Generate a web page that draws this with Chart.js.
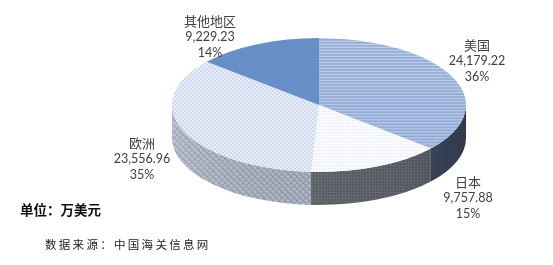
<!DOCTYPE html>
<html><head><meta charset="utf-8">
<script src="https://cdn.jsdelivr.net/npm/chart.js@4"></script>
<style>html,body{margin:0;padding:0;background:#fff;}canvas{display:block;}</style>
</head><body>
<canvas id="c" width="553" height="265"></canvas>
<script>
const categories = ['美国', '日本', '欧洲', '其他地区'];
const values = [24179.22, 9757.88, 23556.96, 9229.23];
const valueLabels = ['24,179.22', '9,757.88', '23,556.96', '9,229.23'];
const percentLabels = ['36%', '15%', '35%', '14%'];
const unitText = '单位：万美元';
const sourceText = '数据来源：中国海关信息网';

// geometry of the tilted pie (screen px)
const G = {cx: 319, cy: 105, rx: 147, ry: 67, depth: 33};
// label anchors (centre x, first line y)
const labelPos = [[477, 45], [468, 182], [142, 143], [210, 21]];

function makePattern(w, h, draw, sx, sy) {
  const c = document.createElement('canvas'); c.width = w; c.height = h;
  const x = c.getContext('2d'); draw(x);
  const p = document.createElement('canvas').getContext('2d').createPattern(c, 'repeat');
  if (sx) p.setTransform(new DOMMatrix().scale(sx, sy));
  return p;
}
function px(x, c, i, j) { x.fillStyle = c; x.fillRect(i, j, 1, 1); }

const topFill = [
  (sx, sy) => makePattern(4, 4, x => {
    const cols = ['#c0cfe9', '#9ab1d9', '#90a9d4', '#a9bde1'];
    cols.forEach((c, j) => { x.fillStyle = c; x.fillRect(0, j, 4, 1); });
  }, sx, sy),
  (sx, sy) => makePattern(3, 3, x => {
    x.fillStyle = '#f8fafd'; x.fillRect(0, 0, 3, 3); px(x, '#dde5f2', 1, 1);
  }, sx, sy),
  (sx, sy) => makePattern(4, 4, x => {
    x.fillStyle = '#eef2f9'; x.fillRect(0, 0, 4, 4);
    x.fillStyle = '#c8d5ec'; x.fillRect(0, 0, 2, 2); x.fillRect(2, 2, 2, 2);
  }, sx, sy),
  (sx, sy) => makePattern(2, 2, x => {
    x.fillStyle = '#5b86c2'; x.fillRect(0, 0, 2, 2);
    px(x, '#7399cf', 0, 0); px(x, '#7399cf', 1, 1);
  }, sx, sy)
];

const sideFill = [
  () => makePattern(2, 2, x => { x.fillStyle = '#3f4c62'; x.fillRect(0, 0, 2, 2); px(x, '#485670', 0, 0); }),
  () => makePattern(3, 3, x => { x.fillStyle = '#5c6068'; x.fillRect(0, 0, 3, 3); x.fillStyle = '#6c7079'; x.fillRect(0, 0, 3, 1); x.fillRect(0, 0, 1, 3); }),
  () => makePattern(6, 6, x => {
    x.fillStyle = '#b4bcc9'; x.fillRect(0, 0, 6, 6);
    for (let i = 0; i < 6; i++) { px(x, '#909aac', i, i); px(x, '#909aac', 5 - i, i); px(x, '#9ea7b7', (i + 1) % 6, i); }
  }),
  () => '#4a6a99'
];

const pie3d = {
  id: 'pie3d',
  beforeDatasetsDraw(chart) {
    const ctx = chart.ctx;
    const meta = chart.getDatasetMeta(0);
    const {cx, cy, rx, ry, depth} = G;
    meta.data.forEach((arc, i) => {
      const segs = [];
      const norm = v => { while (v < 0) v += Math.PI * 2; return v; };
      const s = norm(arc.startAngle); const e = s + (arc.endAngle - arc.startAngle);
      [[0, Math.PI], [2 * Math.PI, 3 * Math.PI]].forEach(([lo, hi]) => {
        const ss = Math.max(s, lo), ee = Math.min(e, hi);
        if (ee > ss) segs.push([ss, ee]);
      });
      segs.forEach(([ss, ee]) => {
        ctx.save();
        ctx.beginPath();
        ctx.ellipse(cx, cy, rx, ry, 0, ss, ee, false);
        ctx.lineTo(cx + rx * Math.cos(ee), cy + depth + ry * Math.sin(ee));
        ctx.ellipse(cx, cy + depth, rx, ry, 0, ee, ss, true);
        ctx.closePath();
        ctx.fillStyle = sideFill[i]();
        ctx.fill();
        const g = ctx.createLinearGradient(cx - rx, 0, cx + rx, 0);
        g.addColorStop(0, 'rgba(255,255,255,0.12)');
        g.addColorStop(0.45, 'rgba(0,0,0,0.04)');
        g.addColorStop(0.8, 'rgba(0,0,0,0.10)');
        g.addColorStop(1, 'rgba(0,0,0,0.25)');
        ctx.fillStyle = g; ctx.fill();
        ctx.restore();
      });
    });
    const a = meta.data[0];
    const r = a.outerRadius;
    ctx.save();
    ctx.translate(cx, cy);
    ctx.scale(rx / r, ry / r);
    ctx.translate(-a.x, -a.y);
  },
  afterDatasetsDraw(chart) {
    const ctx = chart.ctx;
    ctx.restore();
    const meta = chart.getDatasetMeta(0);
    ctx.save();
    ctx.fillStyle = '#404040';
    ctx.textAlign = 'center';
    ctx.textBaseline = 'middle';
    meta.data.forEach((arc, i) => {
      const [x, y] = labelPos[i];
      ctx.font = '13px "Noto Sans CJK SC"';
      ctx.fillText(categories[i], x, y);
      ctx.font = '12.5px Lato, "Noto Sans CJK SC"';
      ctx.fillText(valueLabels[i], x, y + 16);
      ctx.fillText(percentLabels[i], x, y + 32);
    });
    ctx.fillStyle = '#111';
    ctx.textAlign = 'left';
    ctx.font = 'bold 13.5px "Noto Sans CJK SC"';
    ctx.fillText(unitText, 20, 210);
    ctx.font = '11.5px "Noto Sans CJK SC"';
    ctx.fillStyle = '#222';
    [...sourceText].forEach((ch, k) => ctx.fillText(ch, 45 + k * 13.8, 245));
    ctx.restore();
  }
};

const chart = new Chart(document.getElementById('c'), {
  type: 'pie',
  data: {
    labels: categories,
    datasets: [{
      data: values,
      backgroundColor: (c) => {
        const m = c.chart.getDatasetMeta(0).data[0];
        const r = m && m.outerRadius ? m.outerRadius : 100;
        return topFill[c.dataIndex](r / G.rx, r / G.ry);
      },
      borderWidth: 0
    }]
  },
  options: {
    responsive: false,
    animation: false,
    devicePixelRatio: 1,
    plugins: {legend: {display: false}, tooltip: {enabled: false}}
  },
  plugins: [pie3d]
});
</script>
</body></html>
